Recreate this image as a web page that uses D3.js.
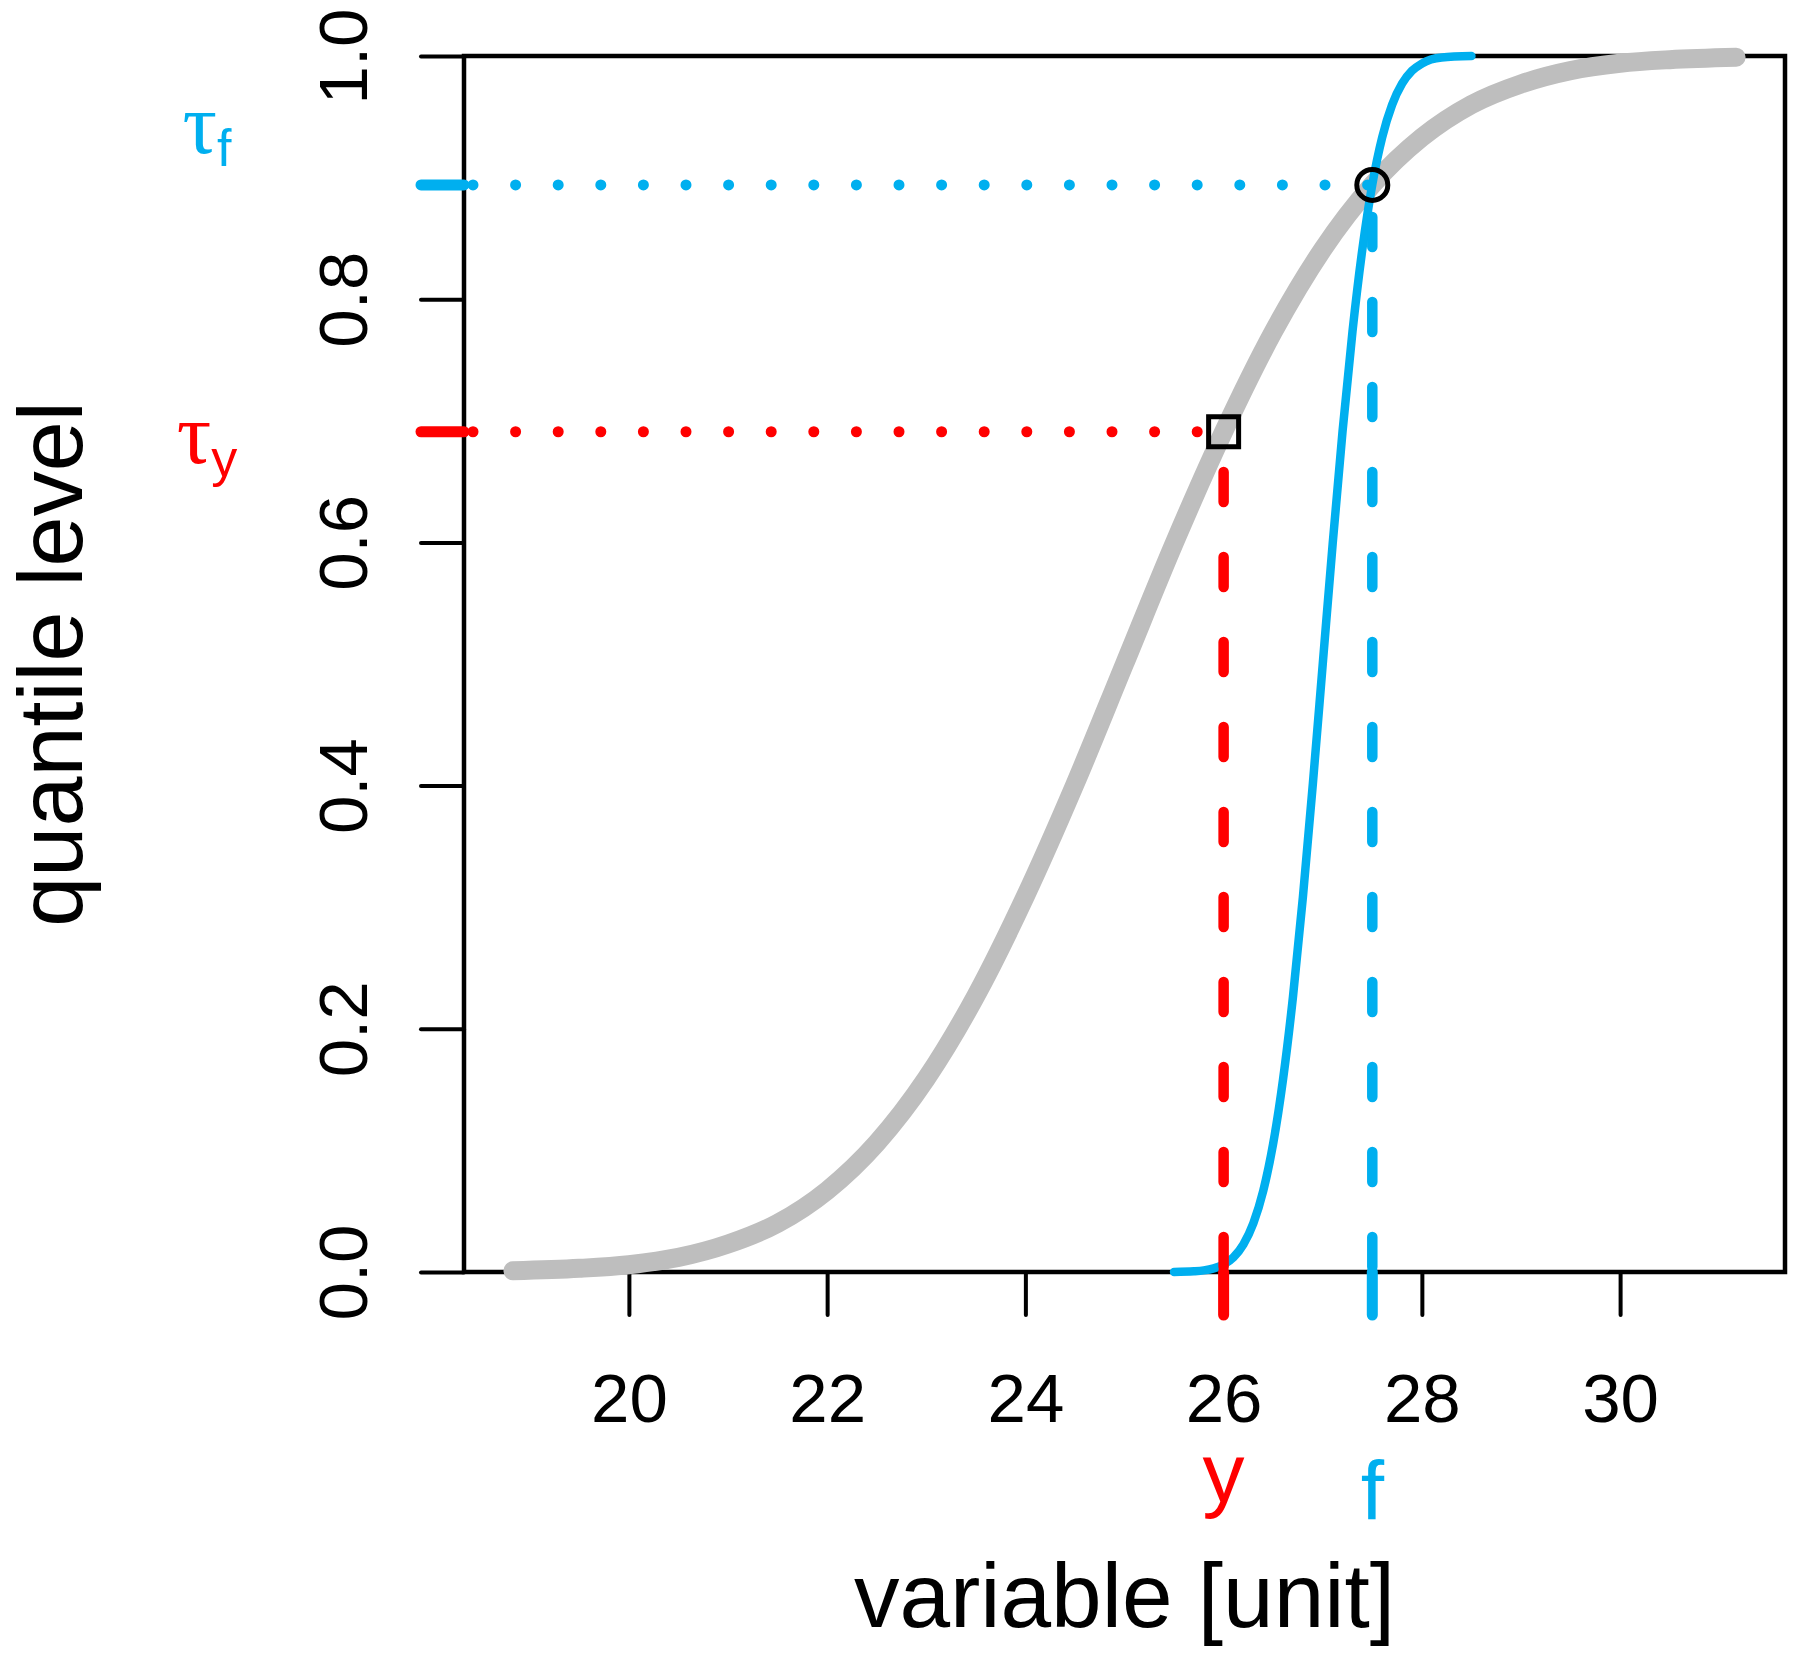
<!DOCTYPE html>
<html>
<head>
<meta charset="utf-8">
<script src="https://cdn.jsdelivr.net/npm/d3@7"></script>
<style>
  html, body { margin: 0; padding: 0; background: #fff; }
  svg { display: block; font-family: "Liberation Sans", Arial, Helvetica, sans-serif; }
</style>
</head>
<body>
<svg id="chart" width="1800" height="1658"></svg>
<script>
// ---- data ----
// climatological CDF (thick grey)
const climX = [18.83, 19.5, 20, 20.5, 21, 21.5, 22, 22.5, 23, 23.5, 24, 24.5, 25,
               25.5, 26, 26.5, 27, 27.5, 28, 28.5, 29, 29.5, 30, 30.5, 31.17];
const climP = [0.001, 0.003, 0.006, 0.012, 0.023, 0.040, 0.067, 0.106, 0.159, 0.227, 0.309, 0.401, 0.500,
               0.599, 0.691, 0.773, 0.841, 0.894, 0.933, 0.960, 0.977, 0.988, 0.994, 0.997, 0.999];

// forecast CDF (blue)
const fcstX = [25.5, 25.7, 25.8, 25.9, 26.0, 26.1, 26.2, 26.3, 26.4, 26.5, 26.6, 26.7, 26.8, 26.9, 27.0,
               27.1, 27.2, 27.3, 27.4, 27.5, 27.6, 27.7, 27.8, 27.9, 28.0, 28.2, 28.5];
const fcstP = [0.0001, 0.0006, 0.0013, 0.003, 0.0062, 0.0122, 0.0228, 0.0401, 0.0668, 0.1056, 0.1587, 0.2266, 0.3085, 0.4013, 0.5,
               0.5987, 0.6915, 0.7734, 0.8413, 0.8944, 0.9332, 0.9599, 0.9772, 0.9878, 0.9938, 0.9987, 0.9999];

// observation y and forecast f with their quantile levels
const markNames = ["y", "f"];
const markValues = [26.0, 27.5];
const markTaus = [0.691, 0.894];

const xTicks = [20, 22, 24, 26, 28, 30];
const yTicks = [0, 0.2, 0.4, 0.6, 0.8, 1.0];

// ---- layout / style ----
const box = { left: 464, right: 1785, top: 56, bottom: 1272 };
const markColor = { y: "#FF0000", f: "#00AFEF" };
const markShape = { y: "square", f: "circle" };
const labelBase = { y: 1502, f: 1520 };       // bottom labels baseline
const tauBase = { y: 463, f: 153 };           // tau labels baseline
const tickLen = 43;

const svg = d3.select("#chart");
svg.append("rect").attr("width", 1800).attr("height", 1658).attr("fill", "#fff");

// R-like axis range: data extent padded 4%
const ext = d3.extent(climX);
const pad = (ext[1] - ext[0]) * 0.04;
const x = d3.scaleLinear().domain([ext[0] - pad, ext[1] + pad]).range([box.left, box.right]);
const y = d3.scaleLinear().domain([0, 1]).range([box.bottom, box.top]);

// ---- axes ----
const gx = svg.append("g")
  .attr("transform", `translate(0,${box.bottom})`)
  .call(d3.axisBottom(x).tickValues(xTicks).tickFormat(d3.format("d")).tickSize(tickLen).tickSizeOuter(0))
  .attr("font-size", null).attr("font-family", null);
gx.select(".domain").remove();
gx.selectAll(".tick line").attr("stroke", "#000").attr("stroke-width", 4).attr("stroke-linecap", "round");
gx.selectAll(".tick text")
  .attr("y", 150).attr("dy", null)
  .attr("fill", "#000").attr("font-size", 69);

const gy = svg.append("g")
  .attr("transform", `translate(${box.left},0)`)
  .call(d3.axisLeft(y).tickValues(yTicks).tickFormat(d3.format(".1f")).tickSize(tickLen).tickSizeOuter(0))
  .attr("font-size", null).attr("font-family", null);
gy.select(".domain").remove();
gy.selectAll(".tick line").attr("stroke", "#000").attr("stroke-width", 4).attr("stroke-linecap", "round");
gy.selectAll(".tick text")
  .attr("x", null).attr("dy", null)
  .attr("text-anchor", "middle")
  .attr("transform", "translate(-97,0) rotate(-90)")
  .attr("fill", "#000").attr("font-size", 69);

// plot frame
svg.append("rect")
  .attr("x", box.left).attr("y", box.top)
  .attr("width", box.right - box.left).attr("height", box.bottom - box.top)
  .attr("fill", "none").attr("stroke", "#000").attr("stroke-width", 4.5);

// ---- curves ----
const line = d3.line().x(d => x(d[0])).y(d => y(d[1])).curve(d3.curveMonotoneX);

svg.append("path")
  .attr("d", line(d3.zip(climX, climP)))
  .attr("fill", "none").attr("stroke", "#BEBEBE").attr("stroke-width", 19)
  .attr("stroke-linecap", "round").attr("stroke-linejoin", "round");

svg.append("path")
  .attr("d", line(d3.zip(fcstX, fcstP)))
  .attr("fill", "none").attr("stroke", markColor.f).attr("stroke-width", 8.5)
  .attr("stroke-linecap", "round").attr("stroke-linejoin", "round");

// ---- guide lines, ticks and markers ----
const marks = markNames.map((n, i) => ({ name: n, v: markValues[i], tau: markTaus[i] }));

const g = svg.append("g");

// vertical dashed lines from 0 up to the marker
g.selectAll("line.vdash").data(marks).join("line")
  .attr("class", "vdash")
  .attr("x1", d => x(d.v)).attr("x2", d => x(d.v))
  .attr("y1", y(0)).attr("y2", d => y(d.tau))
  .attr("stroke", d => markColor[d.name]).attr("stroke-width", 10.5)
  .attr("stroke-linecap", "round")
  .attr("stroke-dasharray", "30 55").attr("stroke-dashoffset", -5);

// horizontal dotted lines from the y axis to the marker
g.selectAll("line.hdot").data(marks).join("line")
  .attr("class", "hdot")
  .attr("x1", box.left + 9).attr("x2", d => x(d.v))
  .attr("y1", d => y(d.tau)).attr("y2", d => y(d.tau))
  .attr("stroke", d => markColor[d.name]).attr("stroke-width", 11)
  .attr("stroke-linecap", "round")
  .attr("stroke-dasharray", "0 42.6");

// coloured ticks on both axes
g.selectAll("line.xtick").data(marks).join("line")
  .attr("class", "xtick")
  .attr("x1", d => x(d.v)).attr("x2", d => x(d.v))
  .attr("y1", y(0)).attr("y2", y(0) + tickLen)
  .attr("stroke", d => markColor[d.name]).attr("stroke-width", 11)
  .attr("stroke-linecap", "round");

g.selectAll("line.ytick").data(marks).join("line")
  .attr("class", "ytick")
  .attr("x1", box.left - tickLen).attr("x2", box.left)
  .attr("y1", d => y(d.tau)).attr("y2", d => y(d.tau))
  .attr("stroke", d => markColor[d.name]).attr("stroke-width", 11)
  .attr("stroke-linecap", "round");

// markers: square for y, circle for f
marks.forEach(d => {
  if (markShape[d.name] === "square") {
    g.append("rect")
      .attr("x", x(d.v) - 15).attr("y", y(d.tau) - 15)
      .attr("width", 30).attr("height", 30)
      .attr("fill", "none").attr("stroke", "#000").attr("stroke-width", 5);
  } else {
    g.append("circle")
      .attr("cx", x(d.v)).attr("cy", y(d.tau)).attr("r", 15.5)
      .attr("fill", "none").attr("stroke", "#000").attr("stroke-width", 5);
  }
});

// labels y and f under the axis
g.selectAll("text.mlab").data(marks).join("text")
  .attr("class", "mlab")
  .attr("x", d => x(d.v)).attr("y", d => labelBase[d.name])
  .attr("text-anchor", "middle")
  .attr("font-size", 84)
  .attr("fill", d => markColor[d.name])
  .text(d => d.name);

// tau labels left of the axis
const tl = g.selectAll("text.tlab").data(marks).join("text")
  .attr("class", "tlab")
  .attr("x", 207).attr("y", d => tauBase[d.name])
  .attr("text-anchor", "middle")
  .attr("fill", d => markColor[d.name]);
tl.append("tspan").attr("font-family", "'Liberation Serif', 'DejaVu Serif', serif").attr("font-size", 86).text("τ");
tl.append("tspan").attr("font-size", 52).attr("dy", 13).text(d => d.name);

// axis titles
svg.append("text")
  .attr("x", (box.left + box.right) / 2).attr("y", 1627)
  .attr("text-anchor", "middle").attr("font-size", 91).attr("fill", "#000")
  .text("variable [unit]");

svg.append("text")
  .attr("transform", `translate(82,${(box.top + box.bottom) / 2}) rotate(-90)`)
  .attr("text-anchor", "middle").attr("font-size", 90).attr("fill", "#000")
  .text("quantile level");
</script>
</body>
</html>
